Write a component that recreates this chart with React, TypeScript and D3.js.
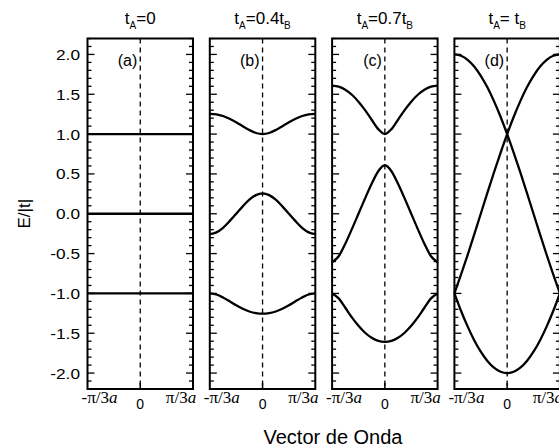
import React from 'react';
import * as d3 from 'd3';

// wave vector grid, in units of pi/3a
const kGrid = [-1, -0.875, -0.75, -0.625, -0.5, -0.375, -0.25, -0.125, 0, 0.125, 0.25, 0.375, 0.5, 0.625, 0.75, 0.875, 1];
const kEnds = [-1, 1];

// (a) tA = 0 : flat bands
const aTop = [1, 1];
const aMid = [0, 0];
const aBot = [-1, -1];

// (b) tA = 0.4 tB
const bTop = [1.255, 1.248, 1.227, 1.193, 1.149, 1.099, 1.051, 1.014, 1.0, 1.014, 1.051, 1.099, 1.149, 1.193, 1.227, 1.248, 1.255];
const bMid = [-0.255, -0.234, -0.176, -0.093, 0, 0.093, 0.176, 0.234, 0.255, 0.234, 0.176, 0.093, 0, -0.093, -0.176, -0.234, -0.255];
const bBot = [-1.0, -1.014, -1.051, -1.099, -1.149, -1.193, -1.227, -1.248, -1.255, -1.248, -1.227, -1.193, -1.149, -1.099, -1.051, -1.014, -1.0];

// (c) tA = 0.7 tB
const cTop = [1.609, 1.596, 1.557, 1.494, 1.407, 1.301, 1.18, 1.062, 1.0, 1.062, 1.18, 1.301, 1.407, 1.494, 1.557, 1.596, 1.609];
const cMid = [-0.609, -0.534, -0.377, -0.193, 0, 0.193, 0.377, 0.534, 0.609, 0.534, 0.377, 0.193, 0, -0.193, -0.377, -0.534, -0.609];
const cBot = [-1.0, -1.062, -1.18, -1.301, -1.407, -1.494, -1.557, -1.596, -1.609, -1.596, -1.557, -1.494, -1.407, -1.301, -1.18, -1.062, -1.0];

// (d) tA = tB : folded cosine band
const dDown = [2, 1.983, 1.932, 1.848, 1.732, 1.587, 1.414, 1.218, 1, 0.765, 0.518, 0.261, 0, -0.261, -0.518, -0.765, -1];
const dUp = [-1, -0.765, -0.518, -0.261, 0, 0.261, 0.518, 0.765, 1, 1.218, 1.414, 1.587, 1.732, 1.848, 1.932, 1.983, 2];
const dBot = [-1, -1.218, -1.414, -1.587, -1.732, -1.848, -1.932, -1.983, -2, -1.983, -1.932, -1.848, -1.732, -1.587, -1.414, -1.218, -1];

const yTickLabels = ['2.0', '1.5', '1.0', '0.5', '0.0', '-0.5', '-1.0', '-1.5', '-2.0'];
const panelTags = ['(a)', '(b)', '(c)', '(d)'];
const titleParts = [
  ['0', ''],
  ['0.4t', 'B'],
  ['0.7t', 'B'],
  [' t', 'B'],
];

const panels = [
  { k: kEnds, bands: [aTop, aMid, aBot] },
  { k: kGrid, bands: [bTop, bMid, bBot] },
  { k: kGrid, bands: [cTop, cMid, cBot] },
  { k: kGrid, bands: [dDown, dUp, dBot] },
];

const W = 559;
const H = 448;
const top = 38.5;
const bottom = 389;
const left0 = 87.5;
const step = 122.3;
const pw = 105.5;

const sans = 'Liberation Sans, Arial, Helvetica, sans-serif';
const serif = 'Liberation Serif, Times New Roman, serif';

const y = d3.scaleLinear().domain([-2.2, 2.2]).range([bottom, top]);
const minorTicks = d3.range(-22, 23).map((d) => d / 10);

function Panel({ idx }: { idx: number }) {
  const p = panels[idx];
  const x0 = left0 + idx * step;
  const x = d3.scaleLinear().domain([-1, 1]).range([x0, x0 + pw]);
  const line = d3
    .line<number>()
    .x((_, i) => x(p.k[i]))
    .y((d) => y(d))
    .curve(d3.curveMonotoneX);
  const [t1, t2] = titleParts[idx];
  return (
    <g>
      {/* title */}
      <text x={x(0)} y={24} textAnchor="middle" fontFamily={sans} fontSize={17}>
        <tspan>t</tspan>
        <tspan fontSize={10} dy={5}>A</tspan>
        <tspan dy={-5}>={t1}</tspan>
        {t2 && <tspan fontSize={10} dy={5}>{t2}</tspan>}
      </text>
      {/* dashed k=0 line */}
      <line x1={x(0)} x2={x(0)} y1={top} y2={bottom} stroke="#000" strokeWidth={1.3} strokeDasharray="5,4" />
      {/* y ticks on both sides */}
      {minorTicks.map((v) => {
        const major = Math.abs(Math.round(v * 10) % 5) === 0;
        const len = major ? 7 : 4;
        return (
          <g key={v}>
            <line x1={x0} x2={x0 + len} y1={y(v)} y2={y(v)} stroke="#000" strokeWidth={1.3} />
            <line x1={x0 + pw - len} x2={x0 + pw} y1={y(v)} y2={y(v)} stroke="#000" strokeWidth={1.3} />
          </g>
        );
      })}
      {/* bottom center tick */}
      <line x1={x(0)} x2={x(0)} y1={bottom} y2={bottom - 6} stroke="#000" strokeWidth={1.5} />
      {/* bands */}
      {p.bands.map((b, i) => (
        <path key={i} d={line(b) || ''} fill="none" stroke="#000" strokeWidth={2.3} />
      ))}
      {/* frame */}
      <rect x={x0} y={top} width={pw} height={bottom - top} fill="none" stroke="#000" strokeWidth={2} />
      {/* panel tag */}
      <text x={x(0) - 3} y={66} textAnchor="end" fontFamily={sans} fontSize={16}>
        {panelTags[idx]}
      </text>
      {/* x tick labels */}
      <text x={x(-1) + 12} y={403} textAnchor="middle" fontFamily={serif} fontSize={17}>
        -π/3<tspan fontStyle="italic">a</tspan>
      </text>
      <text x={x(0)} y={409} textAnchor="middle" fontFamily={sans} fontSize={14}>
        0
      </text>
      <text x={x(1) - 12} y={403} textAnchor="middle" fontFamily={serif} fontSize={17}>
        π/3<tspan fontStyle="italic">a</tspan>
      </text>
    </g>
  );
}

export default function App() {
  const yTickVals = yTickLabels.map((s) => parseFloat(s));
  return (
    <svg width={W} height={H} style={{ position: 'absolute', left: 0, top: 0, background: '#fff' }}>
      <rect width={W} height={H} fill="#fff" />
      {yTickLabels.map((s, i) => (
        <text
          key={s}
          transform={`translate(80,${y(yTickVals[i]) + 5.5}) scale(1.15,1)`}
          textAnchor="end"
          fontFamily={sans}
          fontSize={15}
        >
          {s}
        </text>
      ))}
      <text transform={`translate(30,${y(0)}) rotate(-90)`} textAnchor="middle" fontFamily={sans} fontSize={17}>
        E/|t|
      </text>
      {panels.map((_, i) => (
        <Panel key={i} idx={i} />
      ))}
      <text x={333} y={444} textAnchor="middle" fontFamily={sans} fontSize={20}>
        Vector de Onda
      </text>
    </svg>
  );
}
